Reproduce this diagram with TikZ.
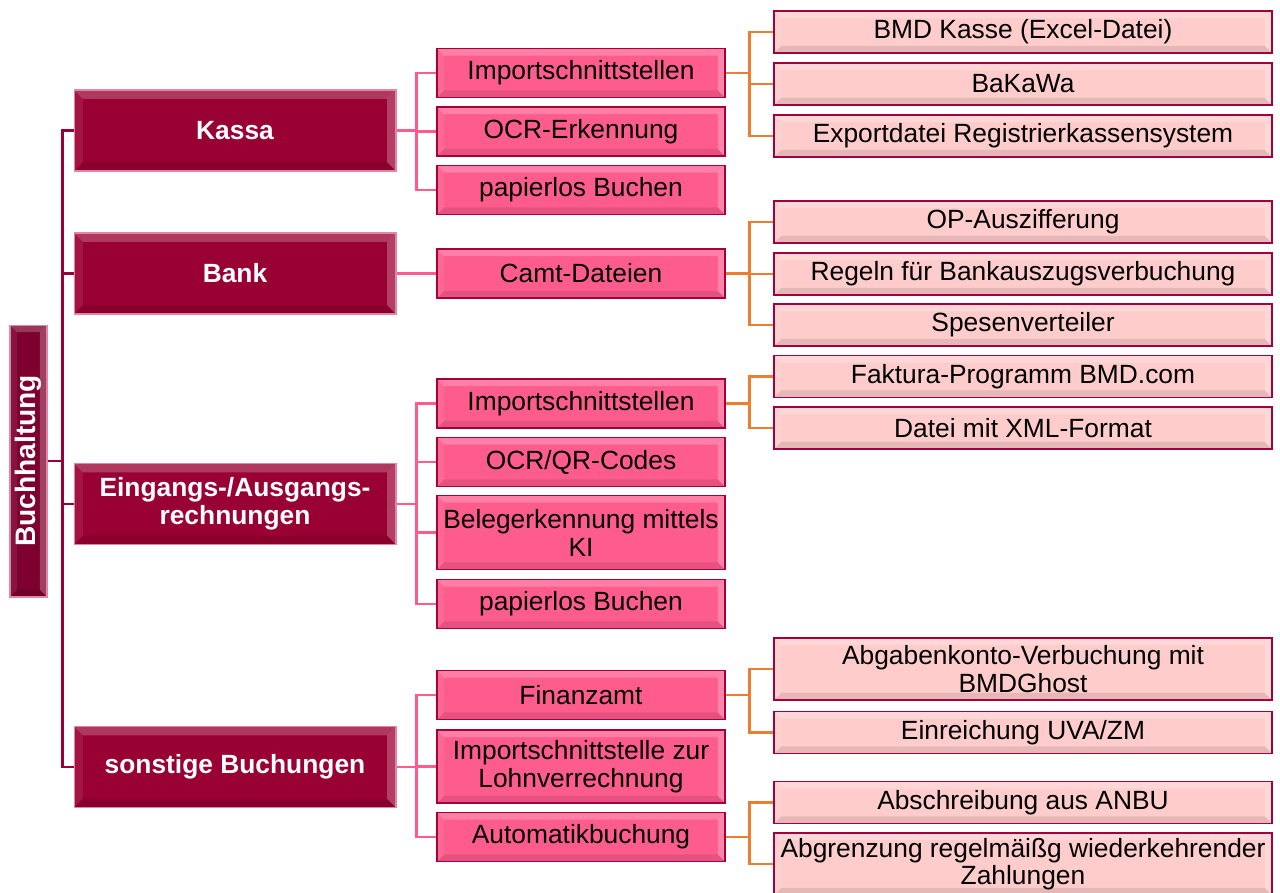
\documentclass[tikz,border=0pt]{standalone}
\usepackage{fontspec}
\setmainfont{Liberation Sans}
\usetikzlibrary{calc}

\definecolor{wurzelrot}{HTML}{7D002E}
\definecolor{weinrot}{HTML}{990033}
\definecolor{hellrand}{HTML}{E585A5}
\definecolor{magenta}{HTML}{FF5C8E}
\definecolor{dunkelrand}{HTML}{A3003D}
\definecolor{rosa}{HTML}{FFCCCC}
\definecolor{orange}{HTML}{ED7D31}

\tikzset{
	fase/.style={path picture={
		\coordinate (nw) at (path picture bounding box.north west);
		\coordinate (ne) at (path picture bounding box.north east);
		\coordinate (sw) at (path picture bounding box.south west);
		\coordinate (se) at (path picture bounding box.south east);
		\fill[white,opacity=.22] (nw) -- (ne) -- ([shift={(-#1,-#1)}]ne) -- ([shift={(#1,-#1)}]nw) -- cycle;
		\fill[white,opacity=.08] (nw) -- ([shift={(#1,-#1)}]nw) -- ([shift={(#1,#1)}]sw) -- (sw) -- cycle;
		\fill[white,opacity=.25] (ne) -- (se) -- ([shift={(-#1,#1)}]se) -- ([shift={(-#1,-#1)}]ne) -- cycle;
		\fill[black,opacity=.1] (sw) -- (se) -- ([shift={(-#1,#1)}]se) -- ([shift={(#1,#1)}]sw) -- cycle;
	}},
	wurzel/.style={draw=hellrand, line width=.6pt, fill=wurzelrot, text=white, font=\fontsize{16}{18}\selectfont\bfseries,
		minimum width=.74cm, minimum height=5.44cm, inner sep=0pt, fase=4pt},
	bereich/.style={draw=hellrand, line width=.6pt, fill=weinrot, text=white, font=\fontsize{15}{16}\selectfont\bfseries,
		minimum width=6.44cm, minimum height=1.62cm, align=center, inner sep=1pt, fase=5pt},
	thema/.style={draw=dunkelrand, line width=1pt, fill=magenta, font=\fontsize{15}{16}\selectfont,
		minimum width=5.76cm, minimum height=.98cm, align=center, inner sep=1pt, fase=4pt},
	detail/.style={draw=dunkelrand, line width=1.1pt, fill=rosa, font=\fontsize{15}{15.5}\selectfont,
		minimum width=9.96cm, minimum height=.84cm, align=center, inner sep=1pt, fase=4pt},
	ast1/.style={draw=weinrot, line width=1.2pt},
	ast2/.style={draw=magenta, line width=1.6pt},
	ast3/.style={draw=orange, line width=1.6pt}
}

\begin{document}
\begin{tikzpicture}[x=0.02cm, y=-0.02cm]
	\useasboundingbox (0,0) rectangle (1280,892);
	
	% Wurzel
	\node[wurzel] (buch) at (28.5,461) {\rotatebox{90}{Buchhaltung}};
	
	% Bereiche
	\node[bereich] (kassa) at (235,130.5) {Kassa};
	\node[bereich] (bank) at (235,273.5) {Bank};
	\node[bereich] (rechn) at (235,504) {Eingangs-/Ausgangs-\\rechnungen};
	\node[bereich] (sonst) at (235,767) {sonstige Buchungen};
	
	% Themen
	\node[thema] (imp1) at (581,73) {Importschnittstellen};
	\node[thema] (ocr1) at (581,131.5) {OCR-Erkennung};
	\node[thema] (pap1) at (581,190) {papierlos Buchen};
	\node[thema] (camt) at (581,273.5) {Camt-Dateien};
	\node[thema] (imp2) at (581,403.5) {Importschnittstellen};
	\node[thema] (ocrqr) at (581,462) {OCR/QR-Codes};
	\node[thema, minimum height=1.48cm] (beleg) at (581,532.5) {Belegerkennung mittels\\KI};
	\node[thema] (pap2) at (581,604) {papierlos Buchen};
	\node[thema] (finanz) at (581,695) {Finanzamt};
	\node[thema, minimum height=1.46cm] (lohn) at (581,766.5) {Importschnittstelle zur\\Lohnverrechnung};
	\node[thema] (auto) at (581,837) {Automatikbuchung};
	
	% Details
	\node[detail] (bmd) at (1023,32) {BMD Kasse (Excel-Datei)};
	\node[detail] (bakawa) at (1023,84) {BaKaWa};
	\node[detail] (export) at (1023,136) {Exportdatei Registrierkassensystem};
	\node[detail] (op) at (1023,222) {OP-Auszifferung};
	\node[detail] (regeln) at (1023,274) {Regeln für Bankauszugsverbuchung};
	\node[detail] (spesen) at (1023,325) {Spesenverteiler};
	\node[detail] (faktura) at (1023,376.5) {Faktura-Programm BMD.com};
	\node[detail] (xml) at (1023,428) {Datei mit XML-Format};
	\node[detail, minimum height=1.24cm] (abgaben) at (1023,669) {Abgabenkonto-Verbuchung mit\\BMDGhost};
	\node[detail] (uva) at (1023,732.5) {Einreichung UVA/ZM};
	\node[detail] (anbu) at (1023,802.5) {Abschreibung aus ANBU};
	\node[detail, minimum height=1.24cm] (abgr) at (1023,864) {Abgrenzung regelmäißg wiederkehrender\\Zahlungen};
	
	% Verbindungen
	\foreach \b in {kassa,bank,rechn,sonst}
		\draw[ast1] (buch.east) -- ++(15,0) |- (\b.west);
	
	\foreach \t in {imp1,ocr1,pap1}
		\draw[ast2] (kassa.east) -- ++(20,0) |- (\t.west);
	\draw[ast2] (bank.east) -- (camt.west);
	\foreach \t in {imp2,ocrqr,beleg,pap2}
		\draw[ast2] (rechn.east) -- ++(20,0) |- (\t.west);
	\foreach \t in {finanz,lohn,auto}
		\draw[ast2] (sonst.east) -- ++(20,0) |- (\t.west);
	
	\foreach \d in {bmd,bakawa,export}
		\draw[ast3] (imp1.east) -- ++(24,0) |- (\d.west);
	\foreach \d in {op,regeln,spesen}
		\draw[ast3] (camt.east) -- ++(24,0) |- (\d.west);
	\foreach \d in {faktura,xml}
		\draw[ast3] (imp2.east) -- ++(24,0) |- (\d.west);
	\foreach \d in {abgaben,uva}
		\draw[ast3] (finanz.east) -- ++(24,0) |- (\d.west);
	\foreach \d in {anbu,abgr}
		\draw[ast3] (auto.east) -- ++(24,0) |- (\d.west);
	
\end{tikzpicture}
\end{document}
